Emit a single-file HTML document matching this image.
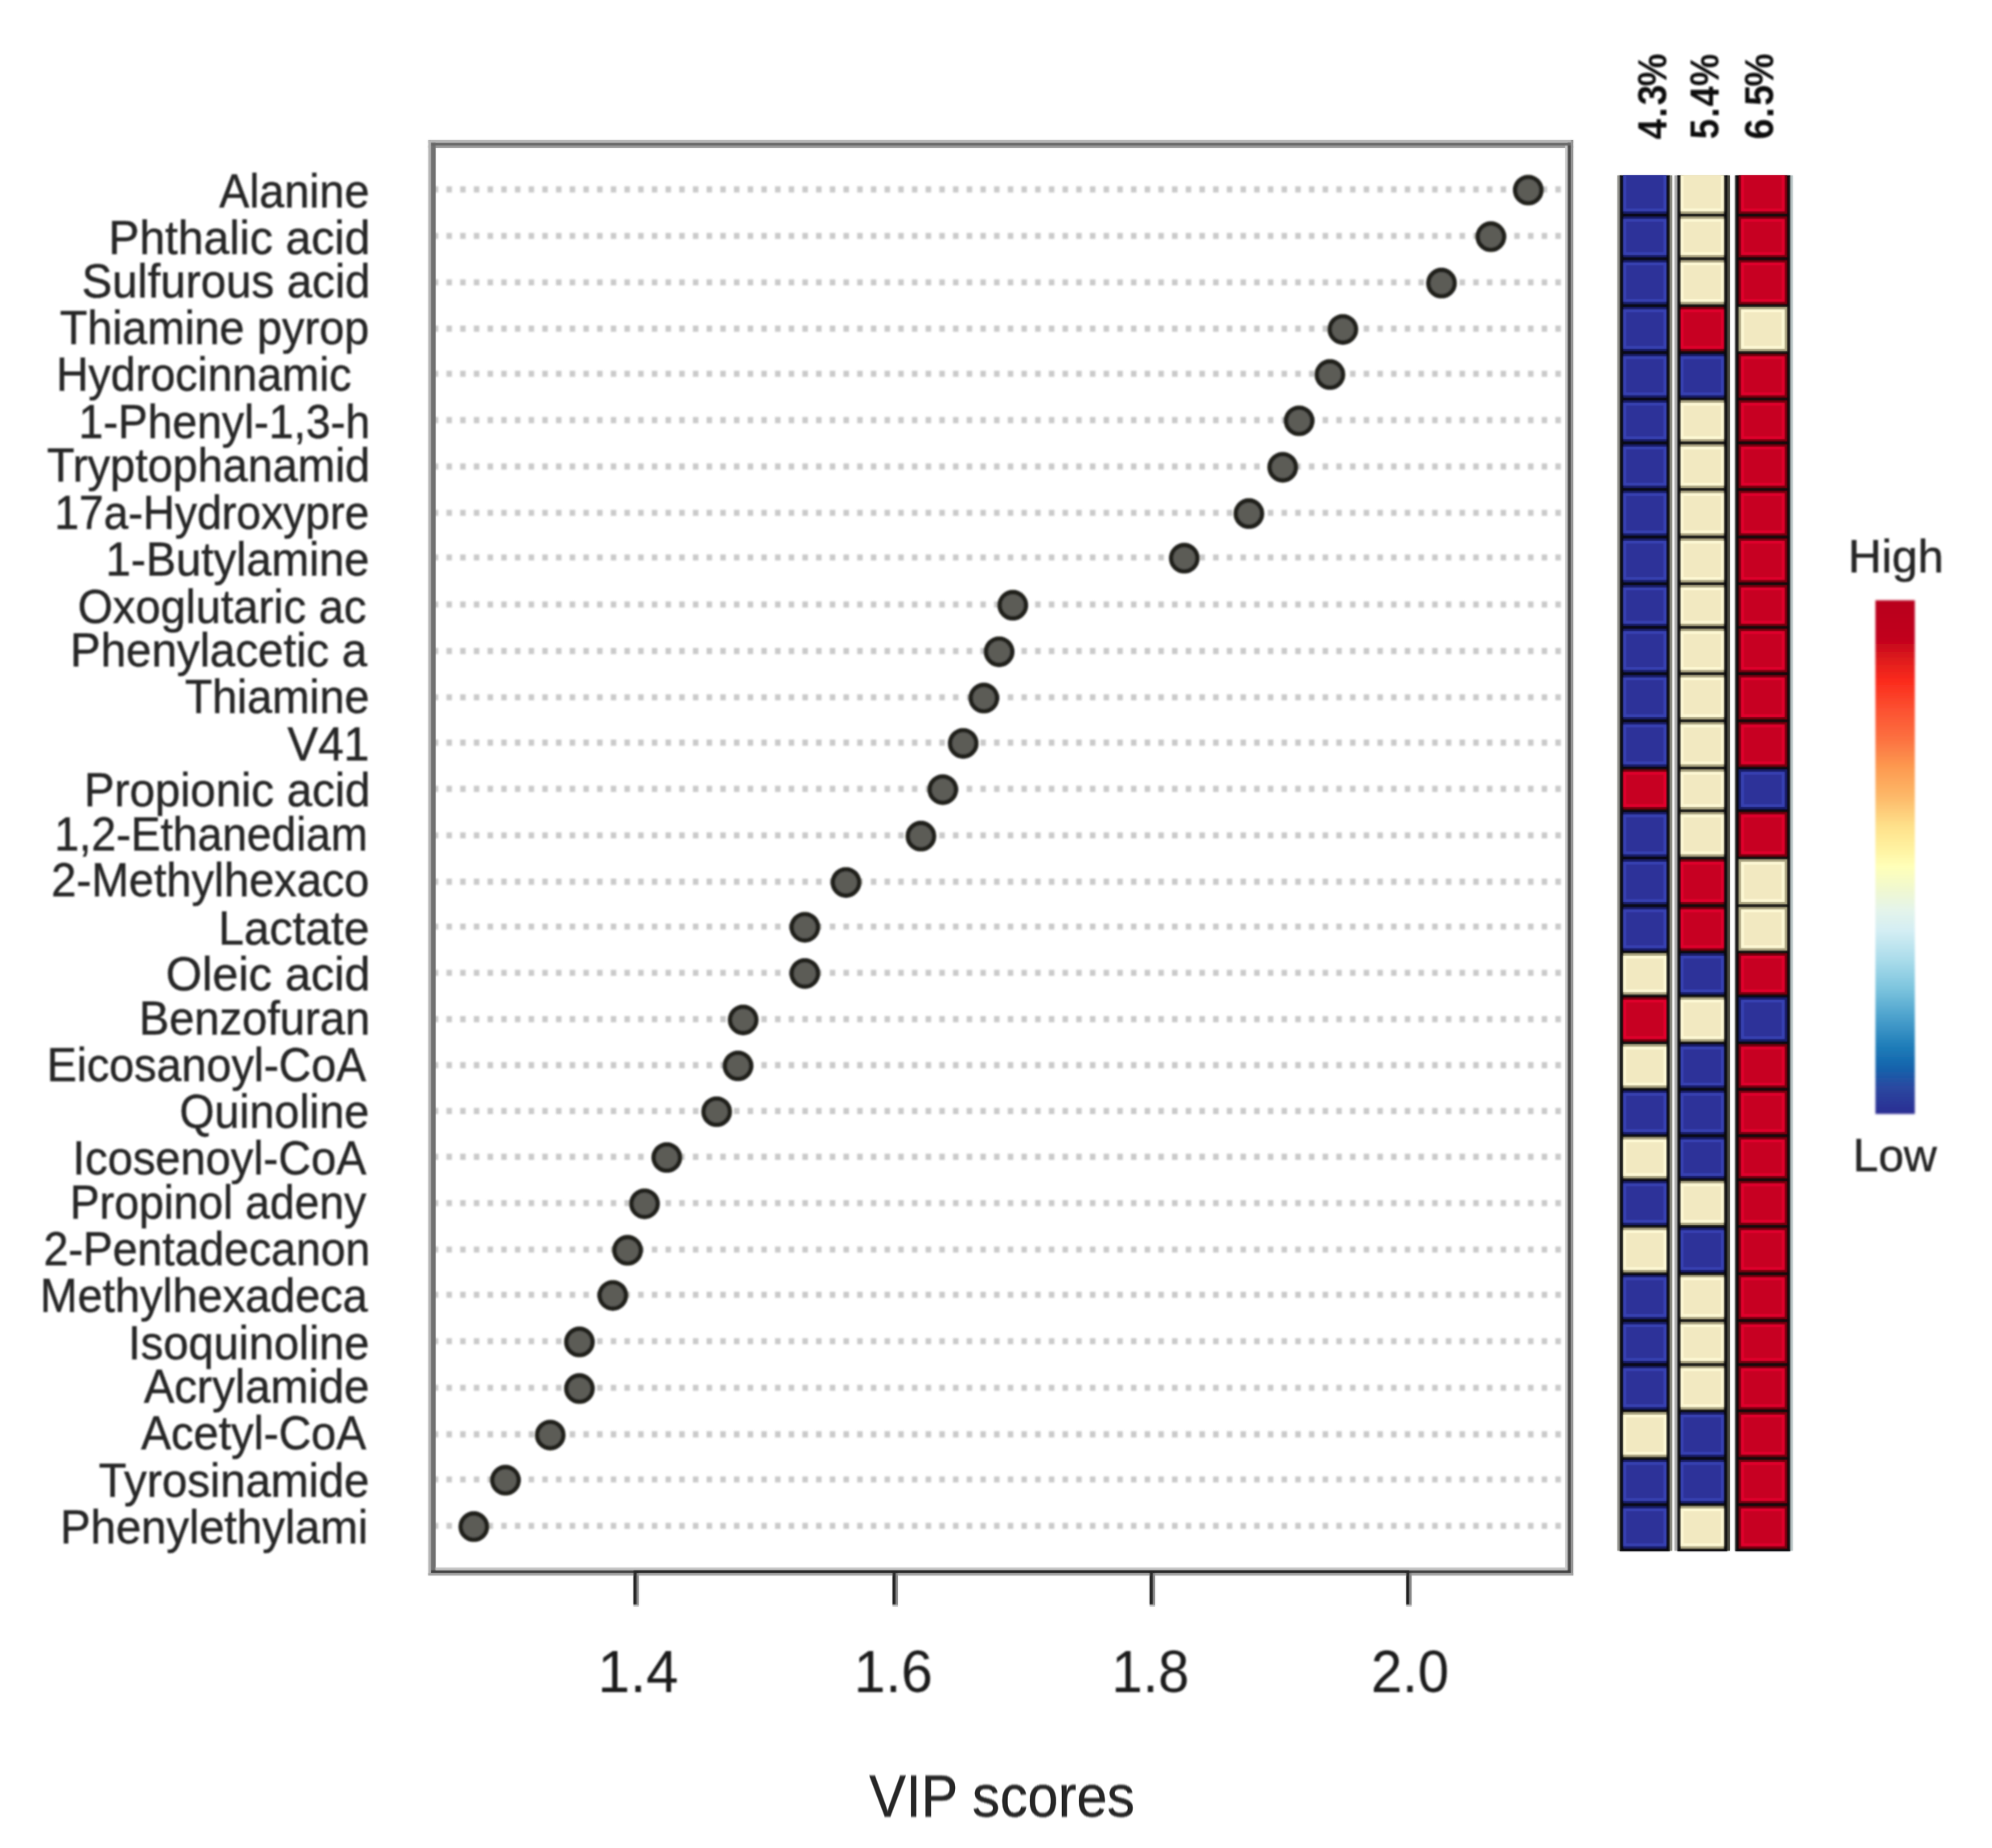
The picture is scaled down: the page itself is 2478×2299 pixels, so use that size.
<!DOCTYPE html>
<html lang="en"><head><meta charset="utf-8"><title>VIP scores</title>
<style>html,body{margin:0;padding:0;background:#fff}body{width:2478px;height:2299px;overflow:hidden}svg{display:block}text{font-family:"Liberation Sans",Arial,sans-serif}.t{fill:#272727;stroke:#272727;stroke-width:.5px}.d{fill:#1b1b1b}.h{fill:#0d0d0d;font-weight:bold}</style></head><body>
<svg width="2478" height="2299" viewBox="0 0 2478 2299">
<defs>
<filter id="b1" x="-5%" y="-5%" width="110%" height="110%"><feGaussianBlur stdDeviation="1.5"/></filter>
<filter id="b2" x="-5%" y="-5%" width="110%" height="110%"><feGaussianBlur stdDeviation="0.9"/></filter>
<filter id="b3" x="-5%" y="-5%" width="110%" height="110%"><feGaussianBlur stdDeviation="0.85"/></filter>
<filter id="b5" x="-5%" y="-5%" width="110%" height="110%"><feGaussianBlur stdDeviation="0.7"/></filter>
<linearGradient id="lg" x1="0" y1="0" x2="0" y2="1">
<stop offset="0.000" stop-color="#b8001f"/>
<stop offset="0.075" stop-color="#c1001f"/>
<stop offset="0.116" stop-color="#df1c1f"/>
<stop offset="0.156" stop-color="#fa2a1c"/>
<stop offset="0.212" stop-color="#fc5030"/>
<stop offset="0.269" stop-color="#fc7040"/>
<stop offset="0.326" stop-color="#fd9a50"/>
<stop offset="0.382" stop-color="#fdb868"/>
<stop offset="0.439" stop-color="#fee08a"/>
<stop offset="0.484" stop-color="#fff2a0"/>
<stop offset="0.518" stop-color="#ffffb8"/>
<stop offset="0.564" stop-color="#f0f8d0"/>
<stop offset="0.603" stop-color="#e4f4ea"/>
<stop offset="0.643" stop-color="#d4eef4"/>
<stop offset="0.700" stop-color="#aadcea"/>
<stop offset="0.756" stop-color="#7cc4de"/>
<stop offset="0.813" stop-color="#4aa0cc"/>
<stop offset="0.870" stop-color="#1e7cb8"/>
<stop offset="0.909" stop-color="#1464ac"/>
<stop offset="0.949" stop-color="#2a48a0"/>
<stop offset="1.000" stop-color="#2c2c92"/>
</linearGradient></defs>
<rect width="2478" height="2299" fill="#fff"/>
<g filter="url(#b2)" stroke="#cacaca" stroke-width="7.6" stroke-dasharray="6.8 10.23" fill="none">
<path d="M538.4 235.6H1946.5"/>
<path d="M538.4 293.5H1946.5"/>
<path d="M538.4 351.3H1946.5"/>
<path d="M538.4 408.9H1946.5"/>
<path d="M538.4 465.0H1946.5"/>
<path d="M538.4 522.6H1946.5"/>
<path d="M538.4 580.4H1946.5"/>
<path d="M538.4 638.0H1946.5"/>
<path d="M538.4 693.5H1946.5"/>
<path d="M538.4 752.0H1946.5"/>
<path d="M538.4 809.9H1946.5"/>
<path d="M538.4 867.5H1946.5"/>
<path d="M538.4 923.9H1946.5"/>
<path d="M538.4 981.4H1946.5"/>
<path d="M538.4 1039.3H1946.5"/>
<path d="M538.4 1096.9H1946.5"/>
<path d="M538.4 1152.7H1946.5"/>
<path d="M538.4 1210.2H1946.5"/>
<path d="M538.4 1267.9H1946.5"/>
<path d="M538.4 1325.1H1946.5"/>
<path d="M538.4 1382.1H1946.5"/>
<path d="M538.4 1439.1H1946.5"/>
<path d="M538.4 1496.7H1946.5"/>
<path d="M538.4 1554.5H1946.5"/>
<path d="M538.4 1610.7H1946.5"/>
<path d="M538.4 1668.5H1946.5"/>
<path d="M538.4 1726.5H1946.5"/>
<path d="M538.4 1784.4H1946.5"/>
<path d="M538.4 1840.5H1946.5"/>
<path d="M538.4 1898.3H1946.5"/>
</g>
<g id="fr">
<rect x="532.8" y="174.1" width="1424.3" height="3.5" fill="#b8b8b8"/>
<rect x="532.8" y="181.1" width="1424.3" height="2.8" fill="#9c9c9c"/>
<rect x="532.8" y="174.1" width="3.2" height="1785.9" fill="#b8b8b8"/>
<rect x="536.0" y="177.6" width="5.8" height="1779.4" fill="#717171"/>
<rect x="1947.1" y="181.1" width="3.0" height="1772.4" fill="#cccccc"/>
<rect x="1954.1" y="174.1" width="3.0" height="1785.9" fill="#999999"/>
<rect x="1950.1" y="177.6" width="4.0" height="1779.4" fill="#474747"/>
<rect x="536.0" y="177.6" width="1418.1" height="3.5" fill="#666666"/>
<rect x="541.8" y="1950.2" width="1408.3" height="3.3" fill="#c8c8c8"/>
<rect x="532.8" y="1957.0" width="1424.3" height="3.0" fill="#a8a8a8"/>
<rect x="536.0" y="1953.5" width="1418.1" height="3.5" fill="#3c3c3c"/>
<rect x="788.2" y="1953.5" width="965.0" height="3.5" fill="#1a1a1a"/>
<rect x="791.9" y="1957.0" width="2.7" height="40.0" fill="#8c8c8c"/>
<rect x="788.1" y="1955.0" width="3.8" height="41.5" fill="#242424"/>
<rect x="788.1" y="1996.5" width="6.5" height="2.5" fill="#cfcfcf"/>
<rect x="1114.2" y="1957.0" width="2.7" height="40.0" fill="#8c8c8c"/>
<rect x="1110.4" y="1955.0" width="3.8" height="41.5" fill="#242424"/>
<rect x="1110.4" y="1996.5" width="6.5" height="2.5" fill="#cfcfcf"/>
<rect x="1434.1" y="1957.0" width="2.7" height="40.0" fill="#8c8c8c"/>
<rect x="1430.3" y="1955.0" width="3.8" height="41.5" fill="#242424"/>
<rect x="1430.3" y="1996.5" width="6.5" height="2.5" fill="#cfcfcf"/>
<rect x="1753.2" y="1957.0" width="2.7" height="40.0" fill="#8c8c8c"/>
<rect x="1749.4" y="1955.0" width="3.8" height="41.5" fill="#242424"/>
<rect x="1749.4" y="1996.5" width="6.5" height="2.5" fill="#cfcfcf"/>
</g>
<use href="#fr" filter="url(#b2)" opacity="0.5"/>
<g filter="url(#b2)" fill="#5b5b56" stroke="#21211f" stroke-width="5.6">
<circle cx="1901.1" cy="236.5" r="16.3"/>
<circle cx="1854.6" cy="294.4" r="16.3"/>
<circle cx="1793.2" cy="352.2" r="16.3"/>
<circle cx="1670.5" cy="409.8" r="16.3"/>
<circle cx="1654.4" cy="465.9" r="16.3"/>
<circle cx="1616.1" cy="523.5" r="16.3"/>
<circle cx="1595.7" cy="581.3" r="16.3"/>
<circle cx="1553.6" cy="638.9" r="16.3"/>
<circle cx="1473.2" cy="694.4" r="16.3"/>
<circle cx="1259.9" cy="752.9" r="16.3"/>
<circle cx="1242.9" cy="810.8" r="16.3"/>
<circle cx="1223.9" cy="868.4" r="16.3"/>
<circle cx="1198.2" cy="924.8" r="16.3"/>
<circle cx="1172.8" cy="982.3" r="16.3"/>
<circle cx="1145.6" cy="1040.2" r="16.3"/>
<circle cx="1052.4" cy="1097.8" r="16.3"/>
<circle cx="1001.2" cy="1153.6" r="16.3"/>
<circle cx="1001.2" cy="1211.1" r="16.3"/>
<circle cx="924.5" cy="1268.8" r="16.3"/>
<circle cx="918.1" cy="1326.0" r="16.3"/>
<circle cx="891.5" cy="1383.0" r="16.3"/>
<circle cx="829.5" cy="1440.0" r="16.3"/>
<circle cx="801.8" cy="1497.6" r="16.3"/>
<circle cx="780.7" cy="1555.4" r="16.3"/>
<circle cx="762.3" cy="1611.6" r="16.3"/>
<circle cx="720.8" cy="1669.4" r="16.3"/>
<circle cx="720.8" cy="1727.4" r="16.3"/>
<circle cx="684.5" cy="1785.3" r="16.3"/>
<circle cx="628.8" cy="1841.4" r="16.3"/>
<circle cx="589.4" cy="1899.2" r="16.3"/>
</g>
<g font-size="58.8" class="t" filter="url(#b3)">
<text transform="translate(272.80 258.4) scale(0.9522 1)">Alanine</text>
<text transform="translate(135.11 315.8) scale(0.9767 1)">Phthalic acid</text>
<text transform="translate(101.85 370.0) scale(0.9633 1)">Sulfurous acid</text>
<text transform="translate(74.58 428.0) scale(0.9494 1)">Thiamine pyrop</text>
<text transform="translate(69.96 486.0) scale(0.9446 1)">Hydrocinnamic</text>
<text transform="translate(97.65 545.0) scale(0.9409 1)">1-Phenyl-1,3-h</text>
<text transform="translate(58.38 598.6) scale(0.9515 1)">Tryptophanamid</text>
<text transform="translate(67.67 657.5) scale(0.9365 1)">17a-Hydroxypre</text>
<text transform="translate(131.58 716.2) scale(0.9558 1)">1-Butylamine</text>
<text transform="translate(96.67 774.5) scale(0.9556 1)">Oxoglutaric ac</text>
<text transform="translate(87.35 828.5) scale(0.9664 1)">Phenylacetic a</text>
<text transform="translate(229.88 886.7) scale(0.9502 1)">Thiamine</text>
<text transform="translate(357.41 945.5) scale(0.9762 1)">V41</text>
<text transform="translate(104.46 1003.4) scale(0.9647 1)">Propionic acid</text>
<text transform="translate(67.66 1057.8) scale(0.9393 1)">1,2-Ethanediam</text>
<text transform="translate(63.80 1115.0) scale(0.9536 1)">2-Methylhexaco</text>
<text transform="translate(271.62 1174.9) scale(0.9746 1)">Lactate</text>
<text transform="translate(206.29 1232.3) scale(0.9858 1)">Oleic acid</text>
<text transform="translate(173.00 1287.0) scale(0.9564 1)">Benzofuran</text>
<text transform="translate(58.23 1345.4) scale(0.9498 1)">Eicosanoyl-CoA</text>
<text transform="translate(223.28 1402.8) scale(0.9509 1)">Quinoline</text>
<text transform="translate(90.24 1460.8) scale(0.9559 1)">Icosenoyl-CoA</text>
<text transform="translate(86.98 1516.0) scale(0.9399 1)">Propinol adeny</text>
<text transform="translate(54.13 1574.4) scale(0.9418 1)">2-Pentadecanon</text>
<text transform="translate(49.82 1631.9) scale(0.9521 1)">Methylhexadeca</text>
<text transform="translate(159.44 1691.1) scale(0.9566 1)">Isoquinoline</text>
<text transform="translate(178.90 1744.9) scale(0.9652 1)">Acrylamide</text>
<text transform="translate(175.50 1802.9) scale(0.9527 1)">Acetyl-CoA</text>
<text transform="translate(122.87 1861.6) scale(0.9631 1)">Tyrosinamide</text>
<text transform="translate(75.08 1919.8) scale(0.9604 1)">Phenylethylami</text>
</g>
<g font-size="73.5" class="d" filter="url(#b3)">
<text transform="translate(743.58 2105) scale(0.9826 1)">1.4</text>
<text transform="translate(1062.21 2105) scale(0.9593 1)">1.6</text>
<text transform="translate(1382.79 2105) scale(0.9444 1)">1.8</text>
<text transform="translate(1705.51 2105) scale(0.9487 1)">2.0</text>
</g>
<text font-size="73.5" class="t" filter="url(#b3)" transform="translate(1081.26 2259.7) scale(0.9331 1)">VIP scores</text>
<g id="hm">
<rect x="2012.0" y="218.3" width="3.8" height="1710.9" fill="#9a9a94"/>
<rect x="2076.2" y="218.3" width="4.0" height="1710.9" fill="#94948a"/>
<rect x="2014.8" y="218.3" width="62.4" height="1711.4" fill="#08080c"/>
<rect x="2019.3" y="218.3" width="53.7" height="47.6" fill="#191c66"/>
<rect x="2019.3" y="218.3" width="53.7" height="44.6" fill="#3942b3"/>
<rect x="2022.9" y="218.3" width="46.5" height="41.2" fill="#2d3299"/>
<rect x="2019.3" y="269.3" width="53.7" height="50.9" fill="#191c66"/>
<rect x="2019.3" y="272.3" width="53.7" height="44.9" fill="#3942b3"/>
<rect x="2022.9" y="275.7" width="46.5" height="38.1" fill="#2d3299"/>
<rect x="2019.3" y="323.6" width="53.7" height="54.9" fill="#191c66"/>
<rect x="2019.3" y="326.6" width="53.7" height="48.9" fill="#3942b3"/>
<rect x="2022.9" y="330.0" width="46.5" height="42.1" fill="#2d3299"/>
<rect x="2019.3" y="381.9" width="53.7" height="55.0" fill="#191c66"/>
<rect x="2019.3" y="384.9" width="53.7" height="49.0" fill="#3942b3"/>
<rect x="2022.9" y="388.3" width="46.5" height="42.2" fill="#2d3299"/>
<rect x="2019.3" y="440.3" width="53.7" height="54.4" fill="#191c66"/>
<rect x="2019.3" y="443.3" width="53.7" height="48.4" fill="#3942b3"/>
<rect x="2022.9" y="446.7" width="46.5" height="41.6" fill="#2d3299"/>
<rect x="2019.3" y="498.1" width="53.7" height="51.2" fill="#191c66"/>
<rect x="2019.3" y="501.1" width="53.7" height="45.2" fill="#3942b3"/>
<rect x="2022.9" y="504.5" width="46.5" height="38.4" fill="#2d3299"/>
<rect x="2019.3" y="552.7" width="53.7" height="54.4" fill="#191c66"/>
<rect x="2019.3" y="555.7" width="53.7" height="48.4" fill="#3942b3"/>
<rect x="2022.9" y="559.1" width="46.5" height="41.6" fill="#2d3299"/>
<rect x="2019.3" y="610.5" width="53.7" height="55.9" fill="#191c66"/>
<rect x="2019.3" y="613.5" width="53.7" height="49.9" fill="#3942b3"/>
<rect x="2022.9" y="616.9" width="46.5" height="43.1" fill="#2d3299"/>
<rect x="2019.3" y="669.8" width="53.7" height="54.7" fill="#191c66"/>
<rect x="2019.3" y="672.8" width="53.7" height="48.7" fill="#3942b3"/>
<rect x="2022.9" y="676.2" width="46.5" height="41.9" fill="#2d3299"/>
<rect x="2019.3" y="727.9" width="53.7" height="50.9" fill="#191c66"/>
<rect x="2019.3" y="730.9" width="53.7" height="44.9" fill="#3942b3"/>
<rect x="2022.9" y="734.3" width="46.5" height="38.1" fill="#2d3299"/>
<rect x="2019.3" y="782.2" width="53.7" height="54.2" fill="#191c66"/>
<rect x="2019.3" y="785.2" width="53.7" height="48.2" fill="#3942b3"/>
<rect x="2022.9" y="788.6" width="46.5" height="41.4" fill="#2d3299"/>
<rect x="2019.3" y="839.8" width="53.7" height="55.2" fill="#191c66"/>
<rect x="2019.3" y="842.8" width="53.7" height="49.2" fill="#3942b3"/>
<rect x="2022.9" y="846.2" width="46.5" height="42.4" fill="#2d3299"/>
<rect x="2019.3" y="898.4" width="53.7" height="55.4" fill="#191c66"/>
<rect x="2019.3" y="901.4" width="53.7" height="49.4" fill="#3942b3"/>
<rect x="2022.9" y="904.8" width="46.5" height="42.6" fill="#2d3299"/>
<rect x="2019.3" y="957.2" width="53.7" height="49.7" fill="#74000f"/>
<rect x="2019.3" y="960.2" width="53.7" height="43.7" fill="#e2002d"/>
<rect x="2022.9" y="963.6" width="46.5" height="36.9" fill="#c70023"/>
<rect x="2019.3" y="1010.3" width="53.7" height="55.4" fill="#191c66"/>
<rect x="2019.3" y="1013.3" width="53.7" height="49.4" fill="#3942b3"/>
<rect x="2022.9" y="1016.7" width="46.5" height="42.6" fill="#2d3299"/>
<rect x="2019.3" y="1069.1" width="53.7" height="55.9" fill="#191c66"/>
<rect x="2019.3" y="1072.1" width="53.7" height="49.9" fill="#3942b3"/>
<rect x="2022.9" y="1075.5" width="46.5" height="43.1" fill="#2d3299"/>
<rect x="2019.3" y="1128.4" width="53.7" height="54.2" fill="#191c66"/>
<rect x="2019.3" y="1131.4" width="53.7" height="48.2" fill="#3942b3"/>
<rect x="2022.9" y="1134.8" width="46.5" height="41.4" fill="#2d3299"/>
<rect x="2019.3" y="1186.0" width="53.7" height="51.3" fill="#a9a27f"/>
<rect x="2019.3" y="1189.0" width="53.7" height="45.3" fill="#fffad6"/>
<rect x="2022.9" y="1192.4" width="46.5" height="38.5" fill="#f2e9c1"/>
<rect x="2019.3" y="1240.7" width="53.7" height="55.0" fill="#74000f"/>
<rect x="2019.3" y="1243.7" width="53.7" height="49.0" fill="#e2002d"/>
<rect x="2022.9" y="1247.1" width="46.5" height="42.2" fill="#c70023"/>
<rect x="2019.3" y="1299.1" width="53.7" height="54.2" fill="#a9a27f"/>
<rect x="2019.3" y="1302.1" width="53.7" height="48.2" fill="#fffad6"/>
<rect x="2022.9" y="1305.5" width="46.5" height="41.4" fill="#f2e9c1"/>
<rect x="2019.3" y="1356.7" width="53.7" height="54.5" fill="#191c66"/>
<rect x="2019.3" y="1359.7" width="53.7" height="48.5" fill="#3942b3"/>
<rect x="2022.9" y="1363.1" width="46.5" height="41.7" fill="#2d3299"/>
<rect x="2019.3" y="1414.6" width="53.7" height="51.3" fill="#a9a27f"/>
<rect x="2019.3" y="1417.6" width="53.7" height="45.3" fill="#fffad6"/>
<rect x="2022.9" y="1421.0" width="46.5" height="38.5" fill="#f2e9c1"/>
<rect x="2019.3" y="1469.3" width="53.7" height="54.7" fill="#191c66"/>
<rect x="2019.3" y="1472.3" width="53.7" height="48.7" fill="#3942b3"/>
<rect x="2022.9" y="1475.7" width="46.5" height="41.9" fill="#2d3299"/>
<rect x="2019.3" y="1527.4" width="53.7" height="55.4" fill="#a9a27f"/>
<rect x="2019.3" y="1530.4" width="53.7" height="49.4" fill="#fffad6"/>
<rect x="2022.9" y="1533.8" width="46.5" height="42.6" fill="#f2e9c1"/>
<rect x="2019.3" y="1586.2" width="53.7" height="55.0" fill="#191c66"/>
<rect x="2019.3" y="1589.2" width="53.7" height="49.0" fill="#3942b3"/>
<rect x="2022.9" y="1592.6" width="46.5" height="42.2" fill="#2d3299"/>
<rect x="2019.3" y="1644.6" width="53.7" height="51.3" fill="#191c66"/>
<rect x="2019.3" y="1647.6" width="53.7" height="45.3" fill="#3942b3"/>
<rect x="2022.9" y="1651.0" width="46.5" height="38.5" fill="#2d3299"/>
<rect x="2019.3" y="1699.3" width="53.7" height="54.2" fill="#191c66"/>
<rect x="2019.3" y="1702.3" width="53.7" height="48.2" fill="#3942b3"/>
<rect x="2022.9" y="1705.7" width="46.5" height="41.4" fill="#2d3299"/>
<rect x="2019.3" y="1756.9" width="53.7" height="55.7" fill="#a9a27f"/>
<rect x="2019.3" y="1759.9" width="53.7" height="49.7" fill="#fffad6"/>
<rect x="2022.9" y="1763.3" width="46.5" height="42.9" fill="#f2e9c1"/>
<rect x="2019.3" y="1816.0" width="53.7" height="54.2" fill="#191c66"/>
<rect x="2019.3" y="1819.0" width="53.7" height="48.2" fill="#3942b3"/>
<rect x="2022.9" y="1822.4" width="46.5" height="41.4" fill="#2d3299"/>
<rect x="2019.3" y="1873.6" width="53.7" height="53.0" fill="#191c66"/>
<rect x="2019.3" y="1876.6" width="53.7" height="47.0" fill="#3942b3"/>
<rect x="2022.9" y="1880.0" width="46.5" height="40.2" fill="#2d3299"/>
<rect x="2083.1" y="218.3" width="4.4" height="1710.9" fill="#b0b0b0"/>
<rect x="2147.6" y="218.3" width="4.3" height="1710.9" fill="#4c4c42"/>
<rect x="2086.5" y="218.3" width="62.1" height="1711.4" fill="#08080c"/>
<rect x="2090.7" y="218.3" width="53.8" height="47.6" fill="#a9a27f"/>
<rect x="2090.7" y="218.3" width="53.8" height="44.6" fill="#fffad6"/>
<rect x="2094.3" y="218.3" width="46.6" height="41.2" fill="#f2e9c1"/>
<rect x="2090.7" y="269.3" width="53.8" height="50.9" fill="#a9a27f"/>
<rect x="2090.7" y="272.3" width="53.8" height="44.9" fill="#fffad6"/>
<rect x="2094.3" y="275.7" width="46.6" height="38.1" fill="#f2e9c1"/>
<rect x="2090.7" y="323.6" width="53.8" height="54.9" fill="#a9a27f"/>
<rect x="2090.7" y="326.6" width="53.8" height="48.9" fill="#fffad6"/>
<rect x="2094.3" y="330.0" width="46.6" height="42.1" fill="#f2e9c1"/>
<rect x="2090.7" y="381.9" width="53.8" height="55.0" fill="#74000f"/>
<rect x="2090.7" y="384.9" width="53.8" height="49.0" fill="#e2002d"/>
<rect x="2094.3" y="388.3" width="46.6" height="42.2" fill="#c70023"/>
<rect x="2090.7" y="440.3" width="53.8" height="54.4" fill="#191c66"/>
<rect x="2090.7" y="443.3" width="53.8" height="48.4" fill="#3942b3"/>
<rect x="2094.3" y="446.7" width="46.6" height="41.6" fill="#2d3299"/>
<rect x="2090.7" y="498.1" width="53.8" height="51.2" fill="#a9a27f"/>
<rect x="2090.7" y="501.1" width="53.8" height="45.2" fill="#fffad6"/>
<rect x="2094.3" y="504.5" width="46.6" height="38.4" fill="#f2e9c1"/>
<rect x="2090.7" y="552.7" width="53.8" height="54.4" fill="#a9a27f"/>
<rect x="2090.7" y="555.7" width="53.8" height="48.4" fill="#fffad6"/>
<rect x="2094.3" y="559.1" width="46.6" height="41.6" fill="#f2e9c1"/>
<rect x="2090.7" y="610.5" width="53.8" height="55.9" fill="#a9a27f"/>
<rect x="2090.7" y="613.5" width="53.8" height="49.9" fill="#fffad6"/>
<rect x="2094.3" y="616.9" width="46.6" height="43.1" fill="#f2e9c1"/>
<rect x="2090.7" y="669.8" width="53.8" height="54.7" fill="#a9a27f"/>
<rect x="2090.7" y="672.8" width="53.8" height="48.7" fill="#fffad6"/>
<rect x="2094.3" y="676.2" width="46.6" height="41.9" fill="#f2e9c1"/>
<rect x="2090.7" y="727.9" width="53.8" height="50.9" fill="#a9a27f"/>
<rect x="2090.7" y="730.9" width="53.8" height="44.9" fill="#fffad6"/>
<rect x="2094.3" y="734.3" width="46.6" height="38.1" fill="#f2e9c1"/>
<rect x="2090.7" y="782.2" width="53.8" height="54.2" fill="#a9a27f"/>
<rect x="2090.7" y="785.2" width="53.8" height="48.2" fill="#fffad6"/>
<rect x="2094.3" y="788.6" width="46.6" height="41.4" fill="#f2e9c1"/>
<rect x="2090.7" y="839.8" width="53.8" height="55.2" fill="#a9a27f"/>
<rect x="2090.7" y="842.8" width="53.8" height="49.2" fill="#fffad6"/>
<rect x="2094.3" y="846.2" width="46.6" height="42.4" fill="#f2e9c1"/>
<rect x="2090.7" y="898.4" width="53.8" height="55.4" fill="#a9a27f"/>
<rect x="2090.7" y="901.4" width="53.8" height="49.4" fill="#fffad6"/>
<rect x="2094.3" y="904.8" width="46.6" height="42.6" fill="#f2e9c1"/>
<rect x="2090.7" y="957.2" width="53.8" height="49.7" fill="#a9a27f"/>
<rect x="2090.7" y="960.2" width="53.8" height="43.7" fill="#fffad6"/>
<rect x="2094.3" y="963.6" width="46.6" height="36.9" fill="#f2e9c1"/>
<rect x="2090.7" y="1010.3" width="53.8" height="55.4" fill="#a9a27f"/>
<rect x="2090.7" y="1013.3" width="53.8" height="49.4" fill="#fffad6"/>
<rect x="2094.3" y="1016.7" width="46.6" height="42.6" fill="#f2e9c1"/>
<rect x="2090.7" y="1069.1" width="53.8" height="55.9" fill="#74000f"/>
<rect x="2090.7" y="1072.1" width="53.8" height="49.9" fill="#e2002d"/>
<rect x="2094.3" y="1075.5" width="46.6" height="43.1" fill="#c70023"/>
<rect x="2090.7" y="1128.4" width="53.8" height="54.2" fill="#74000f"/>
<rect x="2090.7" y="1131.4" width="53.8" height="48.2" fill="#e2002d"/>
<rect x="2094.3" y="1134.8" width="46.6" height="41.4" fill="#c70023"/>
<rect x="2090.7" y="1186.0" width="53.8" height="51.3" fill="#191c66"/>
<rect x="2090.7" y="1189.0" width="53.8" height="45.3" fill="#3942b3"/>
<rect x="2094.3" y="1192.4" width="46.6" height="38.5" fill="#2d3299"/>
<rect x="2090.7" y="1240.7" width="53.8" height="55.0" fill="#a9a27f"/>
<rect x="2090.7" y="1243.7" width="53.8" height="49.0" fill="#fffad6"/>
<rect x="2094.3" y="1247.1" width="46.6" height="42.2" fill="#f2e9c1"/>
<rect x="2090.7" y="1299.1" width="53.8" height="54.2" fill="#191c66"/>
<rect x="2090.7" y="1302.1" width="53.8" height="48.2" fill="#3942b3"/>
<rect x="2094.3" y="1305.5" width="46.6" height="41.4" fill="#2d3299"/>
<rect x="2090.7" y="1356.7" width="53.8" height="54.5" fill="#191c66"/>
<rect x="2090.7" y="1359.7" width="53.8" height="48.5" fill="#3942b3"/>
<rect x="2094.3" y="1363.1" width="46.6" height="41.7" fill="#2d3299"/>
<rect x="2090.7" y="1414.6" width="53.8" height="51.3" fill="#191c66"/>
<rect x="2090.7" y="1417.6" width="53.8" height="45.3" fill="#3942b3"/>
<rect x="2094.3" y="1421.0" width="46.6" height="38.5" fill="#2d3299"/>
<rect x="2090.7" y="1469.3" width="53.8" height="54.7" fill="#a9a27f"/>
<rect x="2090.7" y="1472.3" width="53.8" height="48.7" fill="#fffad6"/>
<rect x="2094.3" y="1475.7" width="46.6" height="41.9" fill="#f2e9c1"/>
<rect x="2090.7" y="1527.4" width="53.8" height="55.4" fill="#191c66"/>
<rect x="2090.7" y="1530.4" width="53.8" height="49.4" fill="#3942b3"/>
<rect x="2094.3" y="1533.8" width="46.6" height="42.6" fill="#2d3299"/>
<rect x="2090.7" y="1586.2" width="53.8" height="55.0" fill="#a9a27f"/>
<rect x="2090.7" y="1589.2" width="53.8" height="49.0" fill="#fffad6"/>
<rect x="2094.3" y="1592.6" width="46.6" height="42.2" fill="#f2e9c1"/>
<rect x="2090.7" y="1644.6" width="53.8" height="51.3" fill="#a9a27f"/>
<rect x="2090.7" y="1647.6" width="53.8" height="45.3" fill="#fffad6"/>
<rect x="2094.3" y="1651.0" width="46.6" height="38.5" fill="#f2e9c1"/>
<rect x="2090.7" y="1699.3" width="53.8" height="54.2" fill="#a9a27f"/>
<rect x="2090.7" y="1702.3" width="53.8" height="48.2" fill="#fffad6"/>
<rect x="2094.3" y="1705.7" width="46.6" height="41.4" fill="#f2e9c1"/>
<rect x="2090.7" y="1756.9" width="53.8" height="55.7" fill="#191c66"/>
<rect x="2090.7" y="1759.9" width="53.8" height="49.7" fill="#3942b3"/>
<rect x="2094.3" y="1763.3" width="46.6" height="42.9" fill="#2d3299"/>
<rect x="2090.7" y="1816.0" width="53.8" height="54.2" fill="#191c66"/>
<rect x="2090.7" y="1819.0" width="53.8" height="48.2" fill="#3942b3"/>
<rect x="2094.3" y="1822.4" width="46.6" height="41.4" fill="#2d3299"/>
<rect x="2090.7" y="1873.6" width="53.8" height="53.0" fill="#a9a27f"/>
<rect x="2090.7" y="1876.6" width="53.8" height="47.0" fill="#fffad6"/>
<rect x="2094.3" y="1880.0" width="46.6" height="40.2" fill="#f2e9c1"/>
<rect x="2157.6" y="218.3" width="2.0" height="1710.9" fill="#d8d8d8"/>
<rect x="2226.2" y="218.3" width="4.0" height="1710.9" fill="#bcc8c9"/>
<rect x="2158.6" y="218.3" width="68.6" height="1711.4" fill="#08080c"/>
<rect x="2162.7" y="218.3" width="60.5" height="47.6" fill="#74000f"/>
<rect x="2165.8" y="218.3" width="54.3" height="44.6" fill="#e2002d"/>
<rect x="2169.4" y="218.3" width="47.1" height="41.2" fill="#c70023"/>
<rect x="2162.7" y="269.3" width="60.5" height="50.9" fill="#74000f"/>
<rect x="2165.8" y="272.3" width="54.3" height="44.9" fill="#e2002d"/>
<rect x="2169.4" y="275.7" width="47.1" height="38.1" fill="#c70023"/>
<rect x="2162.7" y="323.6" width="60.5" height="54.9" fill="#74000f"/>
<rect x="2165.8" y="326.6" width="54.3" height="48.9" fill="#e2002d"/>
<rect x="2169.4" y="330.0" width="47.1" height="42.1" fill="#c70023"/>
<rect x="2162.7" y="381.9" width="60.5" height="55.0" fill="#a9a27f"/>
<rect x="2165.8" y="384.9" width="54.3" height="49.0" fill="#fffad6"/>
<rect x="2169.4" y="388.3" width="47.1" height="42.2" fill="#f2e9c1"/>
<rect x="2162.7" y="440.3" width="60.5" height="54.4" fill="#74000f"/>
<rect x="2165.8" y="443.3" width="54.3" height="48.4" fill="#e2002d"/>
<rect x="2169.4" y="446.7" width="47.1" height="41.6" fill="#c70023"/>
<rect x="2162.7" y="498.1" width="60.5" height="51.2" fill="#74000f"/>
<rect x="2165.8" y="501.1" width="54.3" height="45.2" fill="#e2002d"/>
<rect x="2169.4" y="504.5" width="47.1" height="38.4" fill="#c70023"/>
<rect x="2162.7" y="552.7" width="60.5" height="54.4" fill="#74000f"/>
<rect x="2165.8" y="555.7" width="54.3" height="48.4" fill="#e2002d"/>
<rect x="2169.4" y="559.1" width="47.1" height="41.6" fill="#c70023"/>
<rect x="2162.7" y="610.5" width="60.5" height="55.9" fill="#74000f"/>
<rect x="2165.8" y="613.5" width="54.3" height="49.9" fill="#e2002d"/>
<rect x="2169.4" y="616.9" width="47.1" height="43.1" fill="#c70023"/>
<rect x="2162.7" y="669.8" width="60.5" height="54.7" fill="#74000f"/>
<rect x="2165.8" y="672.8" width="54.3" height="48.7" fill="#e2002d"/>
<rect x="2169.4" y="676.2" width="47.1" height="41.9" fill="#c70023"/>
<rect x="2162.7" y="727.9" width="60.5" height="50.9" fill="#74000f"/>
<rect x="2165.8" y="730.9" width="54.3" height="44.9" fill="#e2002d"/>
<rect x="2169.4" y="734.3" width="47.1" height="38.1" fill="#c70023"/>
<rect x="2162.7" y="782.2" width="60.5" height="54.2" fill="#74000f"/>
<rect x="2165.8" y="785.2" width="54.3" height="48.2" fill="#e2002d"/>
<rect x="2169.4" y="788.6" width="47.1" height="41.4" fill="#c70023"/>
<rect x="2162.7" y="839.8" width="60.5" height="55.2" fill="#74000f"/>
<rect x="2165.8" y="842.8" width="54.3" height="49.2" fill="#e2002d"/>
<rect x="2169.4" y="846.2" width="47.1" height="42.4" fill="#c70023"/>
<rect x="2162.7" y="898.4" width="60.5" height="55.4" fill="#74000f"/>
<rect x="2165.8" y="901.4" width="54.3" height="49.4" fill="#e2002d"/>
<rect x="2169.4" y="904.8" width="47.1" height="42.6" fill="#c70023"/>
<rect x="2162.7" y="957.2" width="60.5" height="49.7" fill="#191c66"/>
<rect x="2165.8" y="960.2" width="54.3" height="43.7" fill="#3942b3"/>
<rect x="2169.4" y="963.6" width="47.1" height="36.9" fill="#2d3299"/>
<rect x="2162.7" y="1010.3" width="60.5" height="55.4" fill="#74000f"/>
<rect x="2165.8" y="1013.3" width="54.3" height="49.4" fill="#e2002d"/>
<rect x="2169.4" y="1016.7" width="47.1" height="42.6" fill="#c70023"/>
<rect x="2162.7" y="1069.1" width="60.5" height="55.9" fill="#a9a27f"/>
<rect x="2165.8" y="1072.1" width="54.3" height="49.9" fill="#fffad6"/>
<rect x="2169.4" y="1075.5" width="47.1" height="43.1" fill="#f2e9c1"/>
<rect x="2162.7" y="1128.4" width="60.5" height="54.2" fill="#a9a27f"/>
<rect x="2165.8" y="1131.4" width="54.3" height="48.2" fill="#fffad6"/>
<rect x="2169.4" y="1134.8" width="47.1" height="41.4" fill="#f2e9c1"/>
<rect x="2162.7" y="1186.0" width="60.5" height="51.3" fill="#74000f"/>
<rect x="2165.8" y="1189.0" width="54.3" height="45.3" fill="#e2002d"/>
<rect x="2169.4" y="1192.4" width="47.1" height="38.5" fill="#c70023"/>
<rect x="2162.7" y="1240.7" width="60.5" height="55.0" fill="#191c66"/>
<rect x="2165.8" y="1243.7" width="54.3" height="49.0" fill="#3942b3"/>
<rect x="2169.4" y="1247.1" width="47.1" height="42.2" fill="#2d3299"/>
<rect x="2162.7" y="1299.1" width="60.5" height="54.2" fill="#74000f"/>
<rect x="2165.8" y="1302.1" width="54.3" height="48.2" fill="#e2002d"/>
<rect x="2169.4" y="1305.5" width="47.1" height="41.4" fill="#c70023"/>
<rect x="2162.7" y="1356.7" width="60.5" height="54.5" fill="#74000f"/>
<rect x="2165.8" y="1359.7" width="54.3" height="48.5" fill="#e2002d"/>
<rect x="2169.4" y="1363.1" width="47.1" height="41.7" fill="#c70023"/>
<rect x="2162.7" y="1414.6" width="60.5" height="51.3" fill="#74000f"/>
<rect x="2165.8" y="1417.6" width="54.3" height="45.3" fill="#e2002d"/>
<rect x="2169.4" y="1421.0" width="47.1" height="38.5" fill="#c70023"/>
<rect x="2162.7" y="1469.3" width="60.5" height="54.7" fill="#74000f"/>
<rect x="2165.8" y="1472.3" width="54.3" height="48.7" fill="#e2002d"/>
<rect x="2169.4" y="1475.7" width="47.1" height="41.9" fill="#c70023"/>
<rect x="2162.7" y="1527.4" width="60.5" height="55.4" fill="#74000f"/>
<rect x="2165.8" y="1530.4" width="54.3" height="49.4" fill="#e2002d"/>
<rect x="2169.4" y="1533.8" width="47.1" height="42.6" fill="#c70023"/>
<rect x="2162.7" y="1586.2" width="60.5" height="55.0" fill="#74000f"/>
<rect x="2165.8" y="1589.2" width="54.3" height="49.0" fill="#e2002d"/>
<rect x="2169.4" y="1592.6" width="47.1" height="42.2" fill="#c70023"/>
<rect x="2162.7" y="1644.6" width="60.5" height="51.3" fill="#74000f"/>
<rect x="2165.8" y="1647.6" width="54.3" height="45.3" fill="#e2002d"/>
<rect x="2169.4" y="1651.0" width="47.1" height="38.5" fill="#c70023"/>
<rect x="2162.7" y="1699.3" width="60.5" height="54.2" fill="#74000f"/>
<rect x="2165.8" y="1702.3" width="54.3" height="48.2" fill="#e2002d"/>
<rect x="2169.4" y="1705.7" width="47.1" height="41.4" fill="#c70023"/>
<rect x="2162.7" y="1756.9" width="60.5" height="55.7" fill="#74000f"/>
<rect x="2165.8" y="1759.9" width="54.3" height="49.7" fill="#e2002d"/>
<rect x="2169.4" y="1763.3" width="47.1" height="42.9" fill="#c70023"/>
<rect x="2162.7" y="1816.0" width="60.5" height="54.2" fill="#74000f"/>
<rect x="2165.8" y="1819.0" width="54.3" height="48.2" fill="#e2002d"/>
<rect x="2169.4" y="1822.4" width="47.1" height="41.4" fill="#c70023"/>
<rect x="2162.7" y="1873.6" width="60.5" height="53.0" fill="#74000f"/>
<rect x="2165.8" y="1876.6" width="54.3" height="47.0" fill="#e2002d"/>
<rect x="2169.4" y="1880.0" width="47.1" height="40.2" fill="#c70023"/>
</g>
<use href="#hm" filter="url(#b2)" opacity="0.55"/>
<g font-size="48" class="h" filter="url(#b3)">
<text transform="translate(2073.4 173.70) rotate(-90) scale(0.9574 1.0417)" dx="0.23 1.62 2.80 -2.13">4.3%</text>
<text transform="translate(2138.1 170.80) rotate(-90) scale(0.9385 1.0326)" dx="-2.25 1.72 1.39 0.40">5.4%</text>
<text transform="translate(2205.8 173.30) rotate(-90) scale(0.9687 1.0236)" dx="-0.21 1.24 2.17 -2.15">6.5%</text>
</g>
<rect x="2333" y="746.8" width="49" height="639" fill="url(#lg)" filter="url(#b1)"/>
<text font-size="57.8" class="t" filter="url(#b3)" transform="translate(2299.08 712.0) scale(0.9991 1)">High</text>
<text font-size="57.8" class="t" filter="url(#b3)" transform="translate(2305.05 1457.0) scale(0.9838 1)">Low</text>
</svg></body></html>
